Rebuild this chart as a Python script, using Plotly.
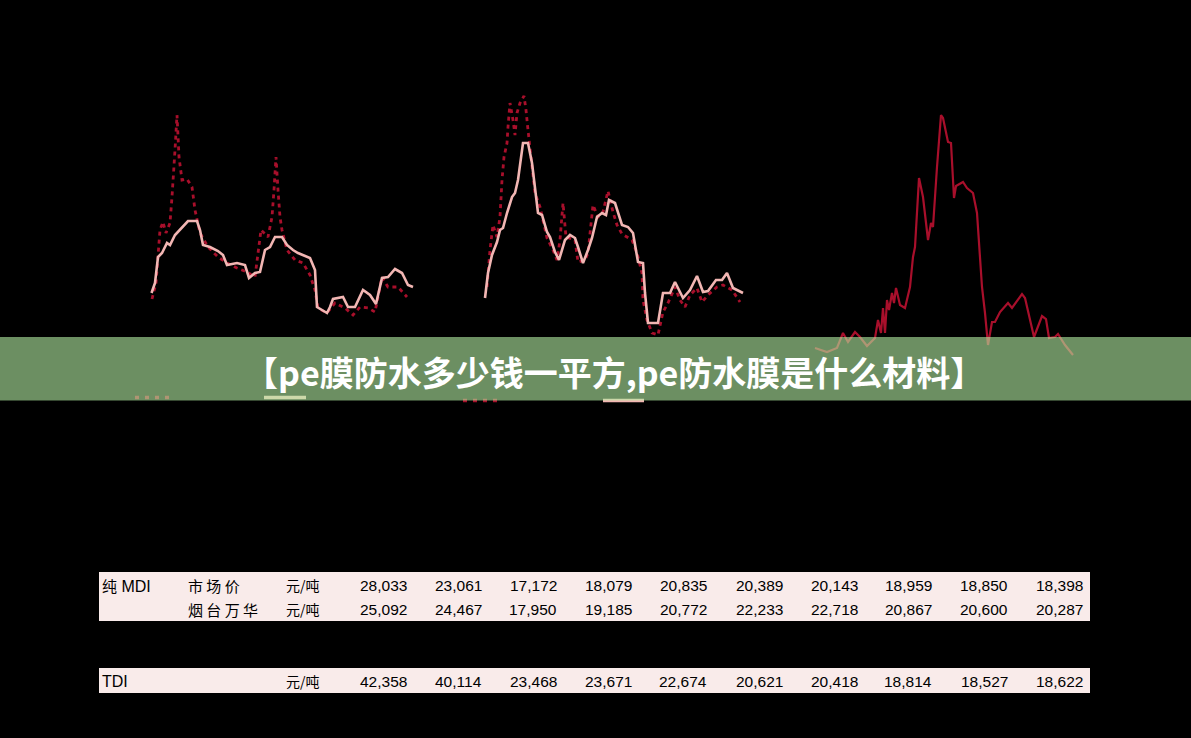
import plotly.graph_objects as go

W, H = 1191, 738

# ---------------- chart data (weeks, price index) ----------------
c1_solid_t = [0.3, 1.0, 1.6, 2.4, 3.4, 4.0, 5.0, 6.4, 7.6, 9.4, 10.0, 10.6, 12.0, 13.6, 14.6, 15.4,
              17.4, 19.0, 19.8, 21.0, 22.0, 23.0, 24.0, 25.0, 26.4, 27.4, 28.6, 29.6, 30.6, 32.0,
              33.0, 33.4, 34.4, 35.4, 36.0, 36.6, 38.6, 39.6, 41.0, 42.6, 44.0, 45.2, 46.4, 47.6,
              49.0, 50.4, 51.6, 52.6]
c1_solid_v = [13.7, 14.7, 17.3, 17.7, 18.7, 18.5, 19.5, 20.2, 20.9, 20.9, 20.0, 18.5, 18.3, 17.9, 17.5, 16.5,
              16.7, 16.5, 15.2, 15.7, 15.8, 18.0, 18.3, 19.3, 19.3, 18.5, 18.0, 17.7, 17.5, 17.2,
              16.0, 12.3, 12.0, 11.7, 12.3, 13.1, 13.3, 12.3, 12.3, 14.0, 13.5, 12.6, 15.2, 15.3,
              16.1, 15.7, 14.5, 14.3]
c1_dot_t = [0.4, 1.2, 2.0, 2.6, 3.2, 4.0, 4.4, 4.6, 5.0, 5.4, 5.8, 6.4, 7.4, 8.4, 9.0, 10.0, 11.6,
            13.6, 15.4, 17.4, 19.4, 21.0, 21.6, 22.2, 23.6, 24.4, 24.8, 25.2, 25.6, 26.0, 26.4,
            27.4, 29.0, 30.6, 32.0, 33.0, 33.6, 35.4, 37.0, 39.0, 40.6, 42.0, 43.6, 45.0, 46.4,
            47.6, 49.6, 51.4]
c1_dot_v = [13.1, 14.7, 20.0, 20.8, 19.7, 20.7, 23.3, 25.3, 28.0, 31.5, 27.3, 25.0, 25.1, 24.3, 22.0, 19.7, 18.3,
            17.3, 16.7, 16.2, 15.8, 15.3, 17.7, 20.0, 19.3, 21.3, 24.0, 27.3, 24.0, 21.3, 20.0,
            18.0, 17.0, 16.7, 15.5, 14.0, 12.2, 11.7, 12.7, 12.2, 11.5, 12.3, 12.2, 11.8, 15.3,
            14.3, 14.3, 13.3]

c2_solid_t = [0.0, 0.6, 1.4, 2.4, 3.0, 3.6, 4.4, 5.4, 6.0, 6.6, 7.6, 8.6, 9.4, 10.0, 10.6, 11.4, 12.4,
              13.0, 14.0, 14.8, 16.0, 17.0, 18.0, 18.6, 19.6, 20.6, 21.4, 22.4, 23.4, 24.2, 24.8,
              26.0, 27.4, 28.6, 29.6, 30.6, 31.6, 32.0, 32.6, 34.6, 35.6, 37.0, 38.0, 39.6, 41.0,
              42.4, 43.6, 44.6, 46.2, 47.4, 48.4, 49.6, 51.6]
c2_solid_v = [13.2, 15.7, 17.5, 18.8, 20.0, 20.2, 21.7, 23.3, 23.7, 25.0, 28.7, 28.7, 26.7, 24.3, 21.7, 21.5, 19.8,
              19.3, 17.8, 17.0, 19.0, 19.5, 19.2, 18.3, 16.7, 18.0, 19.2, 21.3, 21.7, 21.5, 23.0,
              22.7, 20.5, 20.3, 19.7, 16.8, 16.7, 13.7, 10.7, 10.7, 13.7, 13.7, 14.8, 13.2, 14.0,
              15.4, 13.8, 13.9, 15.0, 15.0, 15.7, 14.2, 13.7]
c2_dot_t = [0.4, 1.0, 1.6, 2.4, 3.0, 3.4, 3.8, 4.4, 4.6, 5.0, 5.6, 6.0, 6.4, 7.0, 7.8, 8.2, 8.6, 10.0,
            11.0, 12.4, 13.6, 14.4, 15.0, 15.4, 15.6, 16.2, 18.0, 18.6, 20.0, 20.6, 21.0, 21.4,
            21.6, 22.6, 23.6, 24.6, 25.6, 26.4, 27.4, 29.4, 30.4, 31.4, 31.6, 32.4, 33.4, 34.6,
            35.6, 36.6, 38.0, 39.0, 40.0, 41.0, 42.4, 43.4, 44.6, 46.4, 47.6, 49.4, 51.0]
c2_dot_v = [14.3, 18.0, 20.5, 19.3, 21.3, 25.0, 27.3, 28.7, 30.3, 32.7, 31.0, 29.5, 31.7, 32.7, 33.4, 32.0, 30.0, 23.7,
            22.3, 19.2, 18.0, 17.0, 19.0, 21.0, 22.7, 19.3, 19.0, 16.8, 17.0, 17.7, 19.8, 22.2,
            22.5, 21.3, 21.8, 23.9, 21.8, 20.5, 19.6, 19.0, 17.7, 15.7, 13.0, 11.0, 9.7, 9.5,
            11.8, 12.7, 14.3, 13.0, 12.3, 13.5, 14.2, 12.8, 13.5, 14.3, 14.5, 14.0, 12.8]

c3_t = [0.0, 2.4, 4.4, 5.6, 6.6, 8.0, 9.0, 10.4, 12.0, 12.6, 13.2, 13.6, 14.0, 14.4, 14.8, 15.4,
        15.8, 16.2, 17.0, 18.0, 19.0, 19.6, 20.0, 20.8, 21.6, 22.6, 23.2, 23.6, 24.4, 25.2, 25.6,
        26.6, 27.2, 27.8, 28.2, 29.6, 30.4, 31.6, 32.4, 33.4, 34.0, 34.6, 35.4, 36.0, 37.0, 38.6,
        39.4, 41.4, 42.0, 43.0, 43.8, 45.4, 46.2, 46.8, 48.0, 48.6, 50.0, 51.6]
c3_v = [8.2, 7.8, 8.2, 9.7, 8.8, 9.8, 9.3, 8.4, 9.2, 11.0, 9.7, 12.2, 9.7, 13.0, 12.0, 13.7,
        12.7, 14.2, 12.5, 12.2, 14.3, 17.3, 18.3, 25.2, 23.3, 19.0, 20.7, 20.3, 26.3, 31.5, 31.2,
        28.8, 28.7, 23.2, 24.4, 24.8, 24.2, 23.7, 21.7, 14.3, 11.7, 8.5, 10.8, 10.8, 11.8, 12.7,
        12.2, 13.6, 13.2, 11.2, 9.3, 11.4, 11.1, 9.2, 9.3, 9.6, 8.5, 7.5]

# ---------------- table data ----------------
row_labels = ["纯 MDI", "", "TDI"]
row_sub = ["市 场 价", "烟 台 万 华", ""]
unit = "元/吨"
mdi_market = [28033, 23061, 17172, 18079, 20835, 20389, 20143, 18959, 18850, 18398]
mdi_wanhua = [25092, 24467, 17950, 19185, 20772, 22233, 22718, 20867, 20600, 20287]
tdi_price = [42358, 40114, 23468, 23671, 22674, 20621, 20418, 18814, 18527, 18622]

title_text = "【pe膜防水多少钱一平方,pe防水膜是什么材料】"

PINK = "#f2b6b3"
RED = "#a80f2b"


def px(x):
    return x / W


def py(y):
    return 1 - y / H


fig = go.Figure()
fig.add_trace(go.Scatter(x=c1_dot_t, y=c1_dot_v, xaxis="x", yaxis="y", mode="lines",
                         line=dict(color=RED, width=2.8, dash="4px,4px")))
fig.add_trace(go.Scatter(x=c1_solid_t, y=c1_solid_v, xaxis="x", yaxis="y", mode="lines",
                         line=dict(color=PINK, width=2.6)))
fig.add_trace(go.Scatter(x=c2_dot_t, y=c2_dot_v, xaxis="x2", yaxis="y2", mode="lines",
                         line=dict(color=RED, width=2.8, dash="4px,4px")))
fig.add_trace(go.Scatter(x=c2_solid_t, y=c2_solid_v, xaxis="x2", yaxis="y2", mode="lines",
                         line=dict(color=PINK, width=2.6)))
fig.add_trace(go.Scatter(x=c3_t, y=c3_v, xaxis="x3", yaxis="y3", mode="lines",
                         line=dict(color=RED, width=2.2)))

ydom = [py(370), py(80)]
yrange = [6, 35]
xrange = [-2, 54]
axis_off = dict(visible=False, showgrid=False, zeroline=False, fixedrange=True)

shapes = []
# legend markers (mostly hidden under the banner)
for (x0, x1, yy, dashed, col) in [(135, 172, 397.5, True, RED), (264, 306, 397.5, False, PINK),
                                  (463, 503, 400.5, True, RED), (603, 644, 400.5, False, PINK)]:
    shapes.append(dict(type="line", xref="paper", yref="paper", x0=px(x0), x1=px(x1),
                       y0=py(yy), y1=py(yy), layer="above",
                       line=dict(color=col, width=3.5, dash="4px,6px" if dashed else "solid")))
# banner
shapes.append(dict(type="rect", xref="paper", yref="paper", x0=0, x1=1, y0=py(400.5), y1=py(337),
                   fillcolor="rgba(180,238,163,0.6)", line=dict(width=0), layer="above"))
# table bands
for (y0, y1) in [(572, 621), (668, 693)]:
    shapes.append(dict(type="rect", xref="paper", yref="paper", x0=px(99), x1=px(1090),
                       y0=py(y1), y1=py(y0), fillcolor="#f9ebea", line=dict(width=0), layer="above"))

ann = []
ann.append(dict(text="<b>" + title_text + "</b>", xref="paper", yref="paper", x=px(614), y=py(371),
                showarrow=False, xanchor="center", yanchor="middle",
                font=dict(family="Noto Sans CJK SC", size=34, color="white", weight=900)))

NUMF = "Liberation Sans, Arial, sans-serif"
CJK = "Noto Sans CJK SC"
row_y = [585, 609, 681]
row_vals = [mdi_market, mdi_wanhua, tdi_price]
col_right = [408, 483, 558, 633, 708, 784, 859, 933, 1009, 1084]
for r in range(3):
    yy = py(row_y[r])
    lab = row_labels[r]
    if lab:
        if lab.startswith("纯"):
            txt = "<span style='font-family:%s;font-size:15px'>纯</span> MDI" % CJK
        else:
            txt = lab
        ann.append(dict(text=txt, xref="paper", yref="paper", x=px(100), y=yy, showarrow=False,
                        xanchor="left", yanchor="middle", font=dict(family=NUMF, size=16, color="black")))
    if row_sub[r]:
        ann.append(dict(text=row_sub[r], xref="paper", yref="paper", x=px(186), y=yy, showarrow=False,
                        xanchor="left", yanchor="middle", font=dict(family=CJK, size=15, color="black")))
    ann.append(dict(text=unit, xref="paper", yref="paper", x=px(284), y=yy, showarrow=False,
                    xanchor="left", yanchor="middle", font=dict(family=CJK, size=14, color="black")))
    for c, v in enumerate(row_vals[r]):
        ann.append(dict(text=f"{v:,}", xref="paper", yref="paper", x=px(col_right[c] + 1), y=yy,
                        showarrow=False, xanchor="right", yanchor="middle",
                        font=dict(family=NUMF, size=15.5, color="black")))

fig.update_layout(
    width=W, height=H, autosize=False,
    margin=dict(l=0, r=0, t=0, b=0, pad=0),
    paper_bgcolor="black", plot_bgcolor="rgba(0,0,0,0)",
    showlegend=False,
    xaxis=dict(domain=[px(140), px(420)], range=xrange, anchor="y", **axis_off),
    yaxis=dict(domain=ydom, range=yrange, anchor="x", **axis_off),
    xaxis2=dict(domain=[px(475), px(755)], range=xrange, anchor="y2", **axis_off),
    yaxis2=dict(domain=ydom, range=yrange, anchor="x2", **axis_off),
    xaxis3=dict(domain=[px(805), px(1085)], range=xrange, anchor="y3", **axis_off),
    yaxis3=dict(domain=ydom, range=yrange, anchor="x3", **axis_off),
    shapes=shapes, annotations=ann,
)

fig.write_html("out.html")
